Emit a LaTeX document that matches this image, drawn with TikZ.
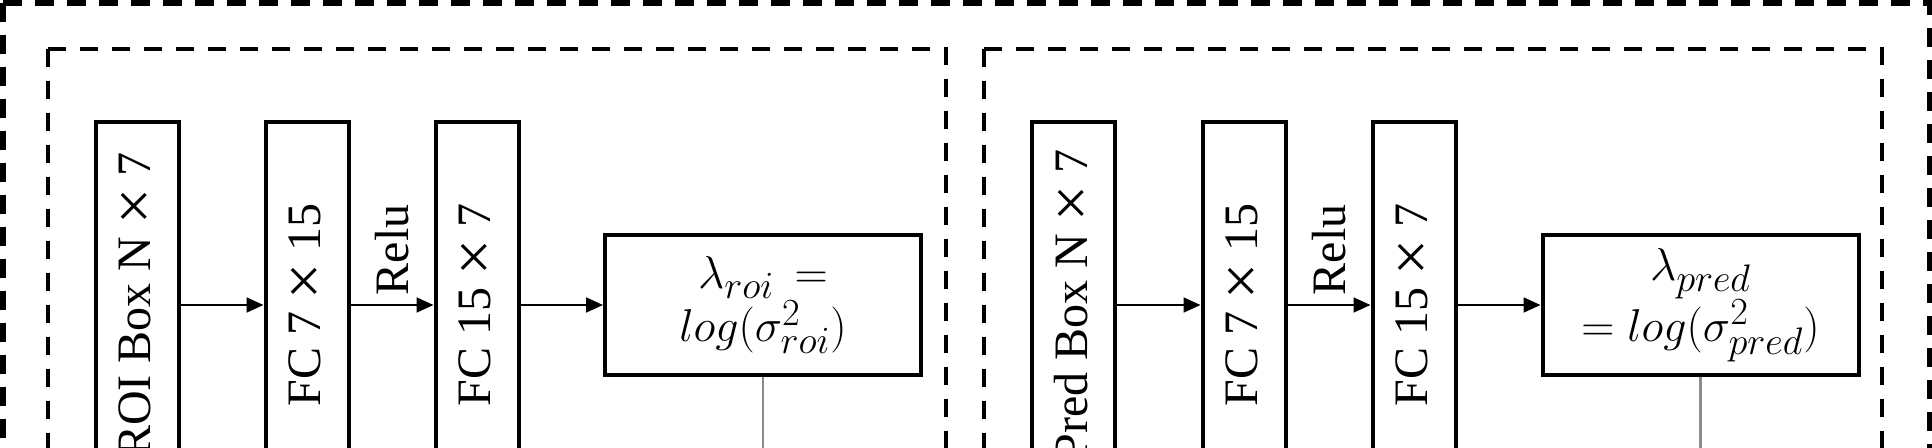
\documentclass[tikz,border=0pt]{standalone}
\usepackage{fontspec}
\setmainfont{Liberation Serif}
\usepackage{graphicx}
\usetikzlibrary{arrows.meta}
\definecolor{linegray}{RGB}{140,140,140}
\newcommand{\bigmath}[1]{\scalebox{1.85}{\Huge$#1$}}
\newcommand{\tms}{\raisebox{-5pt}{\fontsize{64}{64}\selectfont ×}}
\tikzset{
  outerframe/.style={line width=6pt, dash pattern=on 19pt off 13pt},
  innerframe/.style={line width=4pt, dash pattern=on 18pt off 14pt},
  vbox/.style={draw, line width=4pt, minimum width=83pt, minimum height=366pt, inner sep=0pt, font=\fontsize{48}{58}\selectfont},
  lbox/.style={draw, line width=4pt, minimum width=316pt, minimum height=140pt, inner sep=0pt, align=center, font=\fontsize{46}{53}\selectfont},
  arr/.style={line width=1.8pt, -{Triangle[length=17pt,width=15pt]}},
  relulabel/.style={midway, rotate=90, anchor=west, inner xsep=9pt, inner ysep=0pt, font=\fontsize{48}{58}\selectfont},
  drop/.style={draw=linegray, line width=2.5pt},
}
\begin{document}
\begin{tikzpicture}[x=1pt,y=-1pt]
\useasboundingbox (0,0) rectangle (1932,447);
\clip (0,0) rectangle (1932,447);
% outer frame
\coordinate (otl) at (2.5,2.5);
\coordinate (otr) at (1929.5,2.5);
\coordinate (obl) at (2.5,480);
\coordinate (obr) at (1929.5,480);
\draw[outerframe] (otl) -- (otr) -- (obr);
\draw[outerframe] (otl) -- (obl);
% inner frames
\coordinate (atl) at (47.5,49);
\coordinate (atr) at (946,49);
\coordinate (abl) at (47.5,480);
\coordinate (abr) at (946,480);
\draw[innerframe] (atl) -- (atr) -- (abr);
\draw[innerframe] (atl) -- (abl);
\coordinate (btl) at (984,49);
\coordinate (btr) at (1882,49);
\coordinate (bbl) at (984,480);
\coordinate (bbr) at (1882,480);
\draw[innerframe] (btl) -- (btr) -- (bbr);
\draw[innerframe] (btl) -- (bbl);
% left panel
\node[vbox] (roi) at (137.5,305) {\rotatebox{90}{ROI Box N \tms{} 7}};
\node[vbox] (fca) at (307,305) {\rotatebox{90}{FC 7 \tms{} 15}};
\node[vbox] (fcb) at (477,305) {\rotatebox{90}{FC 15 \tms{} 7}};
\node[lbox] (lama) at (763,305) {\bigmath{\lambda_{roi}\, =}\\\bigmath{log(\sigma^2_{roi})}};
\draw[arr] (roi) -- (fca);
\draw[arr] (fca) -- node[relulabel] {Relu} (fcb);
\draw[arr] (fcb) -- (lama);
\coordinate (enda) at (lama.south |- 0,470);
\draw[drop] (lama) -- (enda);
% right panel
\node[vbox] (pred) at (1073.5,305) {\rotatebox{90}{Pred Box N \tms{} 7}};
\node[vbox] (fcc) at (1244,305) {\rotatebox{90}{FC 7 \tms{} 15}};
\node[vbox] (fcd) at (1414,305) {\rotatebox{90}{FC 15 \tms{} 7}};
\node[lbox] (lamb) at (1700.5,305) {\bigmath{\lambda_{pred}}\\\bigmath{=log(\sigma^2_{pred})}};
\draw[arr] (pred) -- (fcc);
\draw[arr] (fcc) -- node[relulabel] {Relu} (fcd);
\draw[arr] (fcd) -- (lamb);
\coordinate (endb) at (lamb.south |- 0,470);
\draw[drop] (lamb) -- (endb);
\end{tikzpicture}
\end{document}
